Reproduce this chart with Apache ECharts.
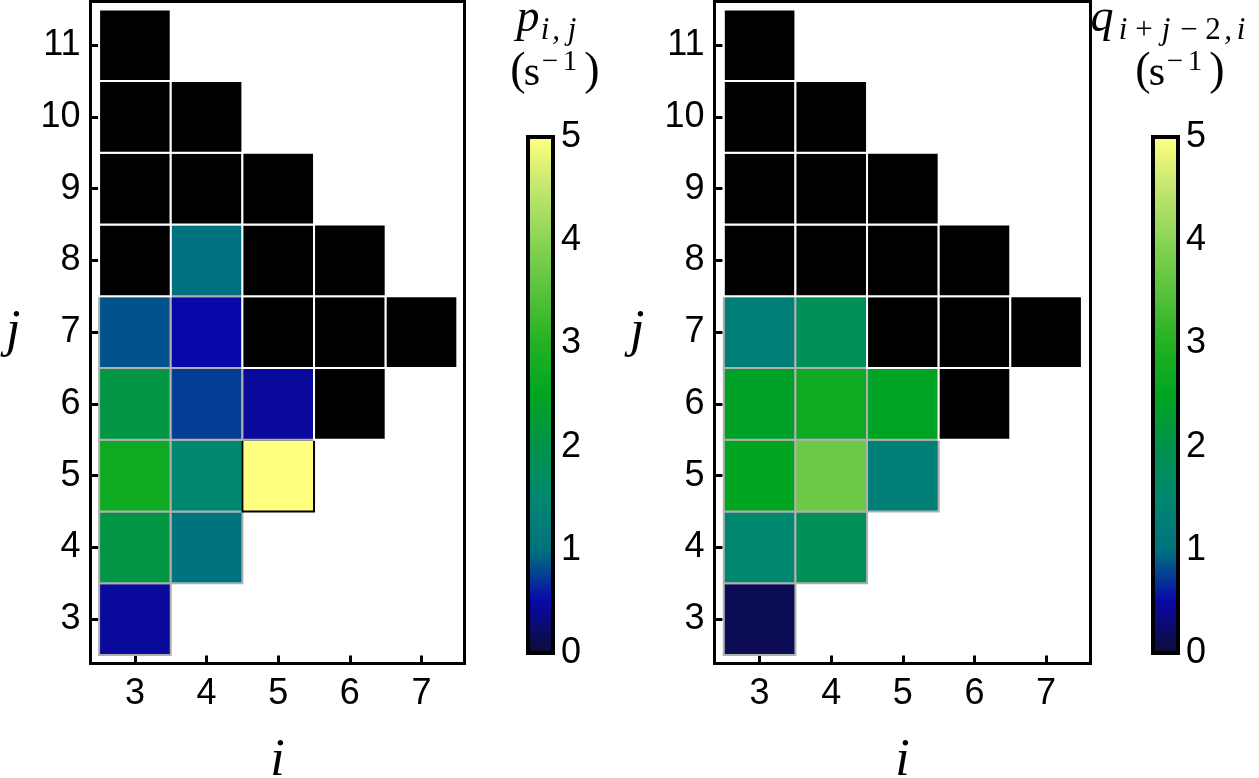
<!DOCTYPE html>
<html>
<head>
<meta charset="utf-8">
<script src="https://cdn.jsdelivr.net/npm/echarts@6/dist/echarts.min.js"></script>
<style>
  html, body { margin: 0; padding: 0; background: #fff; }
  #chart { width: 1259px; height: 778px; }
</style>
</head>
<body>
<div id="chart"></div>
<script>
// tick labels
const iTicks = [3, 4, 5, 6, 7];
const jTicks = [3, 4, 5, 6, 7, 8, 9, 10, 11];
const cbTicks = [0, 1, 2, 3, 4, 5];

// [i, j, value] in s^-1
const pCells = [
    [3, 3, 0.45], [3, 4, 2.1], [4, 4, 1.05], [3, 5, 2.7], [4, 5, 1.5], [5, 5, 5.0],
    [3, 6, 2.1], [4, 6, 0.75], [5, 6, 0.45], [3, 7, 0.85], [4, 7, 0.5], [4, 8, 1.0]
];
// cells with no value (drawn black)
const pBlack = [
    [6, 6], [5, 7], [6, 7], [7, 7], [3, 8], [5, 8], [6, 8],
    [3, 9], [4, 9], [5, 9], [3, 10], [4, 10], [3, 11]
];

const qCells = [
    [3, 3, 0.15], [3, 4, 1.5], [4, 4, 1.85], [3, 5, 2.5], [4, 5, 3.7], [5, 5, 1.3],
    [3, 6, 2.4], [4, 6, 2.7], [5, 6, 2.45], [3, 7, 1.3], [4, 7, 1.85]
];
const qBlack = [
    [6, 6], [5, 7], [6, 7], [7, 7], [3, 8], [4, 8], [5, 8], [6, 8],
    [3, 9], [4, 9], [5, 9], [3, 10], [4, 10], [3, 11]
];

const colorStops = [
    '#0d0d33', '#0808a8', '#00727f', '#008770', '#00924c', '#00a520',
    '#22b222', '#58c23c', '#8ad456', '#c2e66e', '#ffff80'
];

const FONT = "'Liberation Sans', Arial, sans-serif";
const MATH = "'Liberation Serif', 'DejaVu Serif', serif";

const chart = echarts.init(document.getElementById('chart'));

function cellRender(black) {
    return (params, api) => {
        const c = api.coord([api.value(0) - 0.5, api.value(1) + 0.5]);
        const s = api.size([1, 1]);
        let stroke = '#fff';
        if (!black) stroke = api.value(2) >= 4.5 ? '#000' : '#b0b0b0';
        return {
            type: 'rect',
            shape: { x: c[0], y: c[1], width: s[0], height: s[1] },
            style: { fill: black ? '#000' : api.visual('color'), stroke: stroke, lineWidth: 2 }
        };
    };
}

function mainX(idx, min, max) {
    return {
        gridIndex: idx, type: 'value', min: min, max: max,
        name: 'i', nameLocation: 'middle', nameGap: 72,
        nameTextStyle: { fontFamily: MATH, fontStyle: 'italic', fontSize: 52, color: '#000' },
        axisLine: { show: true, lineStyle: { color: '#000', width: 3 } },
        axisTick: { show: true, inside: true, length: 8, lineStyle: { color: '#000', width: 3 }, customValues: iTicks },
        axisLabel: { fontFamily: FONT, fontSize: 36, color: '#000', margin: 13, customValues: iTicks },
        splitLine: { show: false }
    };
}
function mainY(idx) {
    return {
        gridIndex: idx, type: 'value', min: 2.38, max: 11.61,
        name: 'j', nameLocation: 'middle', nameGap: 70, nameRotate: 0,
        nameTextStyle: { fontFamily: MATH, fontStyle: 'italic', fontSize: 52, color: '#000' },
        axisLine: { show: true, lineStyle: { color: '#000', width: 3 } },
        axisTick: { show: true, inside: true, length: 8, lineStyle: { color: '#000', width: 3 }, customValues: jTicks },
        axisLabel: { fontFamily: FONT, fontSize: 36, color: '#000', margin: 10, customValues: jTicks },
        splitLine: { show: false }
    };
}
function cbY(idx) {
    return {
        gridIndex: idx, type: 'value', position: 'right', min: 0, max: 5, interval: 1,
        axisLine: { show: false },
        axisTick: { show: true, length: 8, lineStyle: { color: '#999', width: 1 } },
        minorTick: { show: true, splitNumber: 5, length: 4, lineStyle: { color: '#bbb' } },
        axisLabel: { fontFamily: FONT, fontSize: 36, color: '#000', margin: 8, customValues: cbTicks },
        splitLine: { show: false }
    };
}

// glyph placed by its horizontal centre and its baseline
function glyph(cx, base, text, size, italic) {
    return {
        type: 'text', x: cx, y: base + 0.16 * size,
        style: {
            text: text, fontFamily: MATH, fontSize: size, fontStyle: italic ? 'italic' : 'normal',
            fill: '#000', align: 'center', verticalAlign: 'bottom'
        }
    };
}

const gridBase = { show: true, borderColor: '#000', outerBoundsMode: 'none', containLabel: false };

const option = {
    backgroundColor: '#fff',
    animation: false,
    grid: [
        Object.assign({ left: 90.5, top: 1.5, width: 374, height: 662, borderWidth: 3 }, gridBase),
        Object.assign({ left: 714.5, top: 1.5, width: 376, height: 662, borderWidth: 3 }, gridBase),
        Object.assign({ left: 528, top: 137, width: 25, height: 516, borderWidth: 4, z: 5 }, gridBase),
        Object.assign({ left: 1153, top: 137, width: 25, height: 516, borderWidth: 4, z: 5 }, gridBase)
    ],
    xAxis: [
        mainX(0, 2.38, 7.6),
        mainX(1, 2.37, 7.62),
        { gridIndex: 2, type: 'value', show: false },
        { gridIndex: 3, type: 'value', show: false }
    ],
    yAxis: [mainY(0), mainY(1), cbY(2), cbY(3)],
    visualMap: [
        {
            type: 'continuous', min: 0, max: 5, dimension: 2, seriesIndex: 0,
            calculable: false, text: null, padding: 0, left: 528, top: 137,
            itemWidth: 25, itemHeight: 516, inRange: { color: colorStops }
        },
        {
            type: 'continuous', min: 0, max: 5, dimension: 2, seriesIndex: 2,
            calculable: false, text: null, padding: 0, left: 1153, top: 137,
            itemWidth: 25, itemHeight: 516, inRange: { color: colorStops }
        }
    ],
    series: [
        { type: 'custom', xAxisIndex: 0, yAxisIndex: 0, data: pCells, renderItem: cellRender(false), encode: { x: 0, y: 1 } },
        { type: 'custom', xAxisIndex: 0, yAxisIndex: 0, data: pBlack, renderItem: cellRender(true), encode: { x: 0, y: 1 } },
        { type: 'custom', xAxisIndex: 1, yAxisIndex: 1, data: qCells, renderItem: cellRender(false), encode: { x: 0, y: 1 } },
        { type: 'custom', xAxisIndex: 1, yAxisIndex: 1, data: qBlack, renderItem: cellRender(true), encode: { x: 0, y: 1 } }
    ],
    graphic: [
        // p_{i,j}
        glyph(528, 35, 'p', 46, true),
        glyph(545, 41, 'i', 31, true),
        glyph(556, 41, ',', 31, true),
        glyph(572, 41, 'j', 31, true),
        // (s^-1)
        glyph(518, 88, '(', 46, false),
        glyph(532, 88, 's', 42, false),
        glyph(550, 72, '−', 29, false),
        glyph(570, 72, '1', 29, false),
        glyph(592, 88, ')', 46, false),
        // q_{i+j-2,i}
        glyph(1102, 35, 'q', 46, true),
        glyph(1123, 41, 'i', 31, true),
        glyph(1144, 41, '+', 31, false),
        glyph(1166, 41, 'j', 31, true),
        glyph(1189, 41, '−', 31, false),
        glyph(1213, 41, '2', 31, false),
        glyph(1228, 41, ',', 31, true),
        glyph(1241, 41, 'i', 31, true),
        // (s^-1)
        glyph(1143, 88, '(', 46, false),
        glyph(1157, 88, 's', 42, false),
        glyph(1175, 72, '−', 29, false),
        glyph(1195, 72, '1', 29, false),
        glyph(1217, 88, ')', 46, false)
    ]
};

chart.setOption(option);
</script>
</body>
</html>
